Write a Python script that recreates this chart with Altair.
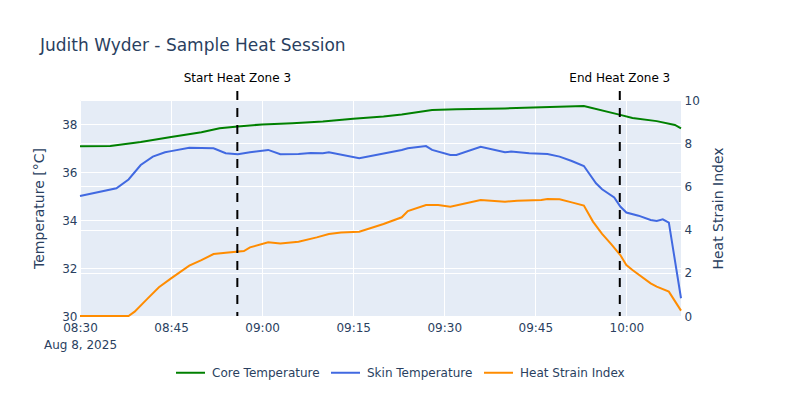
import altair as alt
import pandas as pd

DAY = "2025-08-08T"

core_times = ["08:30", "08:35", "08:40", "08:45", "08:50", "08:53", "08:56", "09:00", "09:05",
              "09:10", "09:15", "09:20", "09:23", "09:28", "09:32", "09:40", "09:46", "09:53",
              "09:59", "10:01", "10:05", "10:08", "10:09"]
core_temp = [37.07, 37.08, 37.25, 37.46, 37.66, 37.82, 37.9, 37.98, 38.03,
             38.1, 38.22, 38.31, 38.4, 38.58, 38.61, 38.65, 38.7, 38.75,
             38.38, 38.25, 38.12, 37.96, 37.82]

skin_times = ["08:30", "08:36", "08:38", "08:40", "08:42", "08:44", "08:45", "08:48", "08:52",
              "08:54", "08:56", "08:58", "09:01", "09:03", "09:06", "09:08", "09:10", "09:11",
              "09:16", "09:23", "09:24", "09:27", "09:28", "09:31", "09:32", "09:36", "09:40",
              "09:41", "09:44", "09:47", "09:49", "09:51", "09:53", "09:55", "09:56", "09:58",
              "09:59", "10:00", "10:02", "10:04", "10:05", "10:06", "10:07", "10:09"]
skin_temp = [35.0, 35.32, 35.69, 36.29, 36.64, 36.82, 36.87, 37.01, 36.99,
             36.78, 36.74, 36.82, 36.92, 36.74, 36.75, 36.79, 36.78, 36.82,
             36.57, 36.92, 36.99, 37.08, 36.92, 36.71, 36.71, 37.05, 36.82,
             36.85, 36.78, 36.75, 36.64, 36.46, 36.25, 35.53, 35.28, 34.94,
             34.56, 34.31, 34.18, 34.0, 33.96, 34.03, 33.89, 30.74]

hsi_times = ["08:30", "08:38", "08:39", "08:41", "08:43", "08:45", "08:48", "08:50", "08:52",
             "08:54", "08:57", "08:58", "09:01", "09:03", "09:06", "09:09", "09:11", "09:13",
             "09:16", "09:20", "09:23", "09:24", "09:27", "09:29", "09:31", "09:36", "09:40",
             "09:42", "09:46", "09:47", "09:49", "09:51", "09:53", "09:54:30", "09:56", "09:57:30",
             "09:59", "10:00", "10:01", "10:04", "10:05", "10:07", "10:09"]
hsi_vals = [0, 0, 0.2, 0.77, 1.33, 1.74, 2.33, 2.59, 2.87,
            2.93, 3.01, 3.18, 3.41, 3.36, 3.44, 3.64, 3.80, 3.87,
            3.90, 4.26, 4.57, 4.86, 5.14, 5.14, 5.06, 5.37, 5.29,
            5.34, 5.37, 5.42, 5.40, 5.26, 5.11, 4.37, 3.80, 3.33,
            2.82, 2.36, 2.13, 1.51, 1.36, 1.13, 0.25]

zone_times = ["08:55:55", "09:58:55"]
zone_labels = ["Start Heat Zone 3", "End Heat Zone 3"]

series_names = ["Core Temperature", "Skin Temperature", "Heat Strain Index"]
series_colors = ["#008000", "#4169E1", "#FF8C00"]

x_ticks = ["08:30", "08:45", "09:00", "09:15", "09:30", "09:45", "10:00"]
temp_ticks = [30, 32, 34, 36, 38]
hsi_ticks = [0, 2, 4, 6, 8, 10]


def ts(t):
    return DAY + (t if t.count(":") == 2 else t + ":00")


def dt(t):
    h, m = t.split(":")[:2]
    return alt.DateTime(year=2025, month=8, date=8, hours=int(h), minutes=int(m))


temp_df = pd.concat([
    pd.DataFrame({"time": [ts(t) for t in core_times], "value": core_temp, "series": series_names[0]}),
    pd.DataFrame({"time": [ts(t) for t in skin_times], "value": skin_temp, "series": series_names[1]}),
])
hsi_df = pd.DataFrame({"time": [ts(t) for t in hsi_times], "value": hsi_vals, "series": series_names[2]})
zone_df = pd.DataFrame({"time": [ts(t) for t in zone_times], "label": zone_labels})

FONT = "DejaVu Sans"
TXT = "#2a3f5f"

x_scale = alt.Scale(domain=[dt("08:30"), dt("10:09")], nice=False)
x_axis = alt.Axis(
    title=None, values=[dt(t) for t in x_ticks], grid=True, gridColor="white", gridWidth=1,
    domain=False, ticks=False, labelFlush=False, labelPadding=6, labelLineHeight=17,
    labelExpr="hours(datum.value) == 8 && minutes(datum.value) == 30 ? ['08:30', 'Aug 8, 2025'] : timeFormat(datum.value, '%H:%M')",
)
color = alt.Color(
    "series:N",
    scale=alt.Scale(domain=series_names, range=series_colors),
    sort=series_names,
    legend=alt.Legend(
        title=None, orient="none", direction="horizontal", legendX=95, legendY=257,
        symbolType="stroke", symbolSize=841, symbolStrokeWidth=2, labelOffset=6,
        columnPadding=7, labelFontSize=12, labelColor=TXT, labelFont=FONT,
    ),
)

temp_layer = alt.Chart(temp_df).mark_line(strokeWidth=2).encode(
    x=alt.X("time:T", scale=x_scale, axis=x_axis),
    y=alt.Y("value:Q", scale=alt.Scale(domain=[30, 39], nice=False, zero=False),
            axis=alt.Axis(orient="left", values=temp_ticks, title="Temperature [°C]",
                          grid=True, gridColor="white", domain=False, ticks=False,
                          labelPadding=3, titleX=-41, titleBaseline="middle")),
    color=color,
)

hsi_layer = alt.Chart(hsi_df).mark_line(strokeWidth=2).encode(
    x=alt.X("time:T", scale=x_scale, axis=x_axis),
    y=alt.Y("value:Q", scale=alt.Scale(domain=[0, 10], nice=False),
            axis=alt.Axis(orient="right", values=hsi_ticks, title="Heat Strain Index",
                          grid=True, gridColor="white", domain=False, ticks=False,
                          labelPadding=3, titleX=37, titleBaseline="middle", titleAngle=-90)),
    color=color,
)

rules = alt.Chart(zone_df).mark_rule(color="black", strokeWidth=2, strokeDash=[9, 8]).encode(
    x=alt.X("time:T", scale=x_scale),
    y=alt.value(-9),
    y2=alt.value(216),
)

labels = alt.Chart(zone_df).mark_text(color="black", fontSize=12, font=FONT, baseline="middle").encode(
    x=alt.X("time:T", scale=x_scale),
    y=alt.value(-22),
    text="label:N",
)

chart = alt.layer(temp_layer, hsi_layer, rules, labels).resolve_scale(y="independent").properties(
    width=601, height=216,
    autosize=alt.AutoSizeParams(type="none"),
    padding={"left": 72, "top": 92, "right": 111, "bottom": 76},
    title=alt.TitleParams("Judith Wyder - Sample Heat Session", anchor="start", frame="group",
                          dx=-40, offset=4, baseline="alphabetic", fontSize=17,
                          fontWeight="normal", color=TXT, font=FONT),
).configure_view(fill="#E5ECF6", stroke=None).configure_axis(
    labelFont=FONT, titleFont=FONT, labelFontSize=12, titleFontSize=14,
    labelColor=TXT, titleColor=TXT, titleFontWeight="normal",
)

chart.save("out.html", embed_options={"renderer": "svg", "actions": False})
